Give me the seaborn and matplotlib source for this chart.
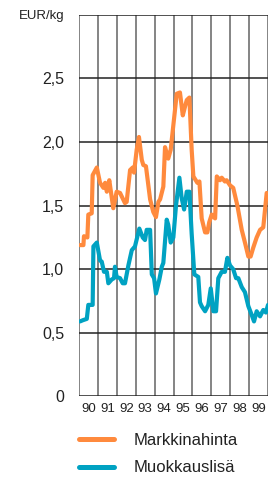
import matplotlib
matplotlib.use("Agg")
import matplotlib.pyplot as plt
import seaborn as sns
import pandas as pd

# Markkinahinta (EUR/kg), aika vuosina
hinta_aika = [1990.05, 1990.23, 1990.26, 1990.44, 1990.49, 1990.67, 1990.72, 1990.94,
              1991.11, 1991.29, 1991.38, 1991.47, 1991.60, 1991.81, 1991.99, 1992.17,
              1992.43, 1992.52, 1992.70, 1992.84, 1992.91, 1993.05, 1993.17, 1993.32,
              1993.40, 1993.54, 1993.76, 1993.93, 1994.07, 1994.20, 1994.29, 1994.46,
              1994.55, 1994.72, 1994.85, 1995.17, 1995.34, 1995.49, 1995.61, 1995.70,
              1995.84, 1995.96, 1996.05, 1996.26, 1996.37, 1996.49, 1996.67, 1996.79,
              1996.89, 1997.02, 1997.20, 1997.29, 1997.46, 1997.55, 1997.72, 1997.81,
              1997.99, 1998.16, 1998.38, 1998.61, 1998.78, 1998.96, 1999.08, 1999.22,
              1999.40, 1999.58, 1999.75, 1999.93]
hinta = [1.19, 1.19, 1.26, 1.25, 1.43, 1.44, 1.74, 1.80,
         1.68, 1.64, 1.68, 1.61, 1.70, 1.48, 1.61, 1.60,
         1.52, 1.53, 1.78, 1.80, 1.76, 1.94, 2.04, 1.86,
         1.82, 1.81, 1.55, 1.45, 1.41, 1.53, 1.55, 1.65,
         1.96, 1.87, 1.94, 2.38, 2.39, 2.21, 2.28, 2.33,
         2.35, 1.94, 1.73, 1.68, 1.69, 1.40, 1.29, 1.29,
         1.37, 1.43, 1.40, 1.73, 1.70, 1.72, 1.69, 1.70,
         1.66, 1.64, 1.50, 1.31, 1.21, 1.10, 1.10, 1.17,
         1.25, 1.31, 1.33, 1.60]

# Muokkauslisä (EUR/kg)
lisa_aika = [1990.05, 1990.21, 1990.41, 1990.49, 1990.72, 1990.76, 1990.94, 1991.11,
             1991.20, 1991.32, 1991.47, 1991.55, 1991.73, 1991.85, 1991.90, 1991.99,
             1992.17, 1992.31, 1992.43, 1992.61, 1992.79, 1992.96, 1993.19, 1993.37,
             1993.49, 1993.58, 1993.76, 1993.85, 1993.97, 1994.07, 1994.25, 1994.38,
             1994.46, 1994.64, 1994.72, 1994.85, 1994.99, 1995.13, 1995.31, 1995.43,
             1995.56, 1995.70, 1995.84, 1995.96, 1996.10, 1996.31, 1996.40, 1996.49,
             1996.67, 1996.84, 1996.97, 1997.11, 1997.25, 1997.37, 1997.55, 1997.72,
             1997.85, 1997.99, 1998.16, 1998.31, 1998.43, 1998.61, 1998.78, 1998.96,
             1999.14, 1999.26, 1999.40, 1999.58, 1999.75, 1999.89, 2000.00]
lisa = [0.59, 0.60, 0.61, 0.72, 0.72, 1.18, 1.21, 1.07,
        1.06, 0.98, 0.98, 0.89, 0.92, 0.93, 1.02, 0.94,
        0.93, 0.89, 0.89, 1.03, 1.15, 1.18, 1.32, 1.25,
        1.23, 1.31, 1.31, 0.96, 0.93, 0.81, 0.92, 1.02,
        1.05, 1.39, 1.35, 1.21, 1.25, 1.50, 1.72, 1.56,
        1.47, 1.61, 1.61, 1.28, 0.96, 0.94, 0.74, 0.71,
        0.67, 0.72, 0.85, 0.67, 0.67, 0.93, 0.98, 0.98,
        1.09, 1.03, 1.00, 0.93, 0.93, 0.86, 0.82, 0.71,
        0.64, 0.59, 0.67, 0.63, 0.68, 0.66, 0.72]

vuodet = list(range(1990, 2001))
vuosi_nimet = ["90", "91", "92", "93", "94", "95", "96", "97", "98", "99"]
y_arvot = [0, 0.5, 1.0, 1.5, 2.0, 2.5, 3.0]
y_nimet = ["0", "0,5", "1,0", "1,5", "2,0", "2,5", "EUR/kg"]

sarjat = ["Markkinahinta", "Muokkauslisä"]
varit = {"Markkinahinta": "#ff8a3d", "Muokkauslisä": "#00a2c2"}

df = pd.concat([
    pd.DataFrame({"aika": hinta_aika, "arvo": hinta, "sarja": sarjat[0]}),
    pd.DataFrame({"aika": lisa_aika, "arvo": lisa, "sarja": sarjat[1]}),
])

sns.set_style("white")
plt.rcParams["font.family"] = ["Liberation Sans", "DejaVu Sans"]

fig = plt.figure(figsize=(2.68, 4.8), dpi=100)
ax = fig.add_axes([0.295, 0.174, 0.705, 0.795])

sns.lineplot(data=df, x="aika", y="arvo", hue="sarja", palette=varit,
             linewidth=3.0, ax=ax, sort=False, estimator=None, legend=False)

ax.set_xlim(1990, 2000)
ax.set_ylim(0, 3.0)

# Pystyviivat vuosien rajoille, vuosiluvut keskelle
ax.set_xticks(vuodet)
ax.set_xticklabels([])
ax.set_xticks([v + 0.5 for v in vuodet[:-1]], minor=True)
ax.set_xticklabels(vuosi_nimet, minor=True, fontsize=9.5, color="#222222")
ax.tick_params(axis="x", which="both", length=0, pad=5)

ax.set_yticks(y_arvot)
ax.set_yticklabels(y_nimet, fontsize=11.5, color="#222222")
ax.get_yticklabels()[-1].set_fontsize(9.5)
ax.tick_params(axis="y", length=5.8, width=1.1, color="#222222", pad=5)

ax.xaxis.grid(True, color="#707070", linewidth=1.2)
ax.yaxis.grid(True, color="#222222", linewidth=1.1)
ax.set_axisbelow(True)
for s in ax.spines.values():
    s.set_visible(False)

ax.set_xlabel("")
ax.set_ylabel("")

# Selite
kahvat = [plt.Line2D([], [], color=varit[s], linewidth=3.6) for s in sarjat]
fig.legend(kahvat, sarjat, loc="upper left", bbox_to_anchor=(0.295, 0.098),
           frameon=False, fontsize=12, handlelength=2.1, handletextpad=1.15,
           labelspacing=0.75, borderpad=0, borderaxespad=0, labelcolor="#222222")

fig.savefig("out.png", dpi=100)
